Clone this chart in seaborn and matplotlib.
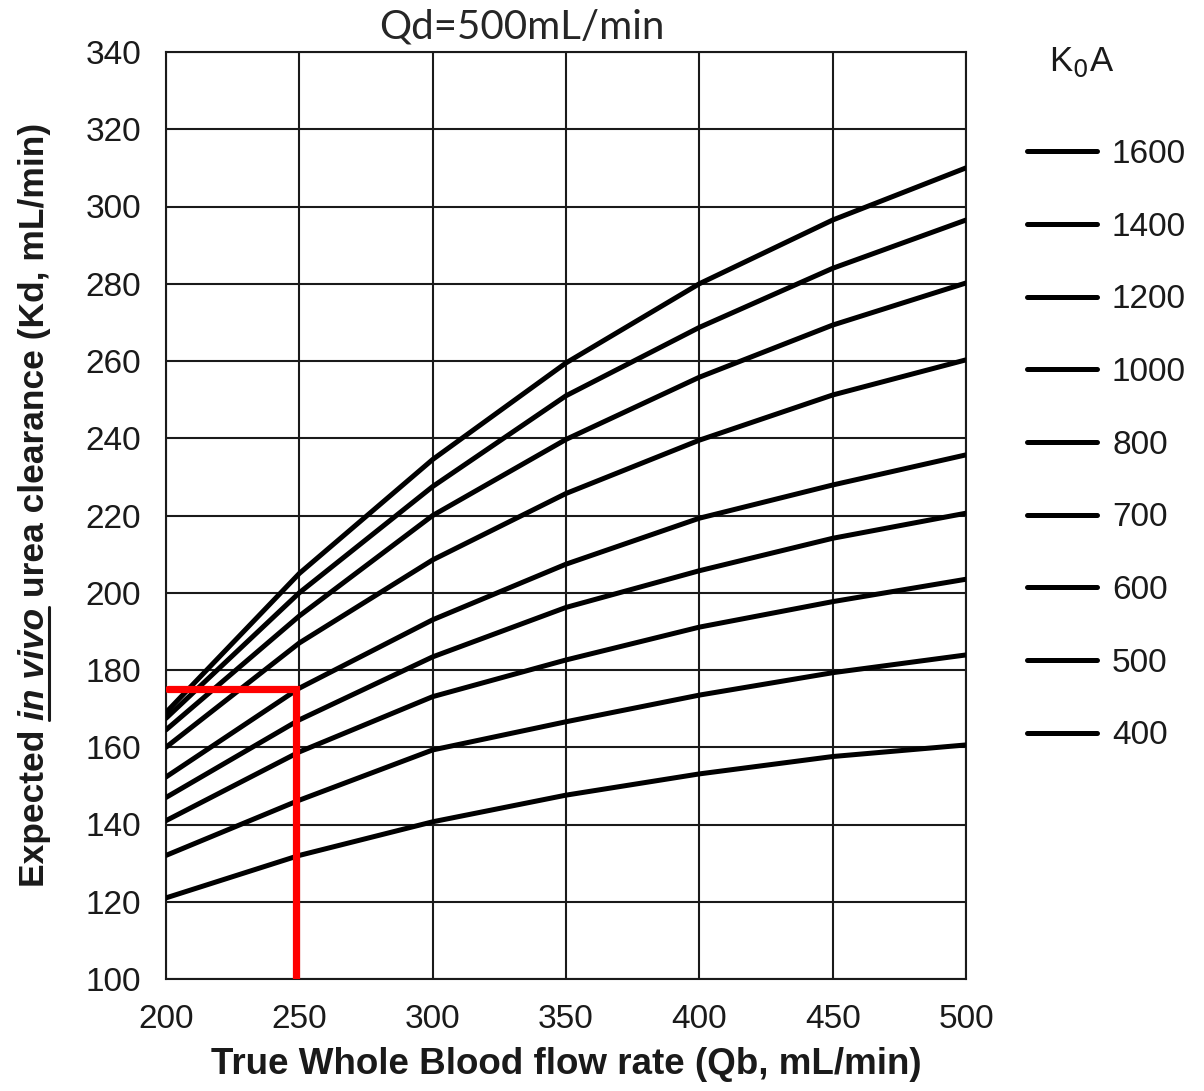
import numpy as np
import pandas as pd
import seaborn as sns
import matplotlib.pyplot as plt
from matplotlib.lines import Line2D


# values
qb = [200, 250, 300, 350, 400, 450, 500]
koa = [1600, 1400, 1200, 1000, 800, 700, 600, 500, 400]
kd_1600 = [169.0, 205.0, 234.5, 259.5, 280.0, 296.5, 310.0]
kd_1400 = [167.5, 200.0, 227.5, 251.0, 268.7, 284.0, 296.5]
kd_1200 = [164.5, 194.0, 220.0, 239.7, 255.8, 269.3, 280.2]
kd_1000 = [160.0, 187.0, 208.5, 225.7, 239.5, 251.2, 260.3]
kd_800 = [152.3, 175.3, 193.0, 207.4, 219.3, 227.9, 235.7]
kd_700 = [147.0, 167.1, 183.4, 196.2, 205.7, 214.1, 220.6]
kd_600 = [141.0, 158.8, 173.1, 182.6, 191.1, 197.7, 203.5]
kd_500 = [132.0, 146.3, 159.3, 166.6, 173.5, 179.3, 183.9]
kd_400 = [121.0, 132.0, 140.7, 147.6, 153.1, 157.6, 160.6]

# red reading guide
guide_qb = [200.7, 248.7, 248.7]
guide_kd = [175.0, 175.0, 100.0]

series = [kd_1600, kd_1400, kd_1200, kd_1000, kd_800, kd_700, kd_600, kd_500, kd_400]
df = pd.concat(
    [pd.DataFrame({'Qb': qb, 'Kd': vals, 'K0A': k}) for k, vals in zip(koa, series)],
    ignore_index=True)

sns.set_style('white')
plt.rcParams['font.family'] = ['Liberation Sans', 'DejaVu Sans']

W, H = 1204, 1091
fig = plt.figure(figsize=(W / 100, H / 100), dpi=100)
ax = fig.add_axes([166 / W, 1 - 979 / H, 800 / W, 927 / H])

sns.lineplot(data=df, x='Qb', y='Kd', hue='K0A', hue_order=koa,
             palette={k: 'black' for k in koa}, linewidth=3.6, ax=ax, zorder=3)
ax.plot(guide_qb, guide_kd, color='#ff0000', linewidth=5.2,
        solid_joinstyle='miter', zorder=4)

ax.set_xlim(200, 500)
ax.set_ylim(100, 340)
ax.set_xticks(range(200, 501, 50))
ax.set_yticks(range(100, 341, 20))
ax.grid(True, color='#1a1a1a', linewidth=1.5)
ax.set_axisbelow(True)
for s in ax.spines.values():
    s.set_color('#1a1a1a')
    s.set_linewidth(1.5)
ax.tick_params(axis='y', direction='out', length=9, width=1.5,
               color='#1a1a1a', labelsize=24, pad=9)
ax.tick_params(axis='x', direction='out', length=9, width=1.5,
               color='#1a1a1a', labelsize=24, pad=9)
ax.tick_params(axis='both', labelcolor='#1a1a1a')
ax.set_xlabel('True Whole Blood flow rate (Qb, mL/min)', fontsize=26.5,
              fontweight='bold', labelpad=9, color='#1a1a1a')
ax.set_ylabel('')

# legend on the right, largest K0A on top
ax.get_legend().remove()
leg_handles = [Line2D([], [], color='black', linewidth=3.6) for _ in koa]
fig.legend(leg_handles, [str(k) for k in koa], loc='upper left',
           bbox_to_anchor=(1027 / W, 1 - 139 / H), frameon=False, fontsize=24,
           handlelength=2.1, handletextpad=0.45, labelspacing=1.25,
           borderaxespad=0, borderpad=0, labelcolor='#1a1a1a')
fig.text(1082 / W, 1 - 62 / H, 'K$_0$A', fontsize=25, ha='center', va='center',
         color='#1a1a1a')

fig.text(522 / W, 1 - 27 / H, 'Qd=500mL/min', fontsize=29, ha='center',
         va='center', family=['Lato', 'DejaVu Sans'])

# y label with italic, underlined "in vivo"
fig.canvas.draw()
rend = fig.canvas.get_renderer()
parts = [('Expected ', 'normal'), ('in vivo', 'italic'),
         (' urea clearance (Kd, mL/min)', 'normal')]
widths = []
for txt, style in parts:
    t = fig.text(0, 0, txt, fontsize=25.5, fontweight='bold', style=style)
    widths.append(t.get_window_extent(rend).width)
    t.remove()
total = sum(widths)
x_base = 44
y_start = (H - 505) - total / 2
pos = y_start
for (txt, style), w in zip(parts, widths):
    fig.text(x_base / W, pos / H, txt, fontsize=25.5, fontweight='bold',
             style=style, rotation=90, rotation_mode='anchor',
             ha='left', va='baseline', color='#1a1a1a')
    if style == 'italic':
        fig.add_artist(Line2D([(x_base + 5) / W] * 2, [pos / H, (pos + w) / H],
                              color='#1a1a1a', linewidth=2.2))
    pos += w

fig.savefig('out.png', dpi=100)
